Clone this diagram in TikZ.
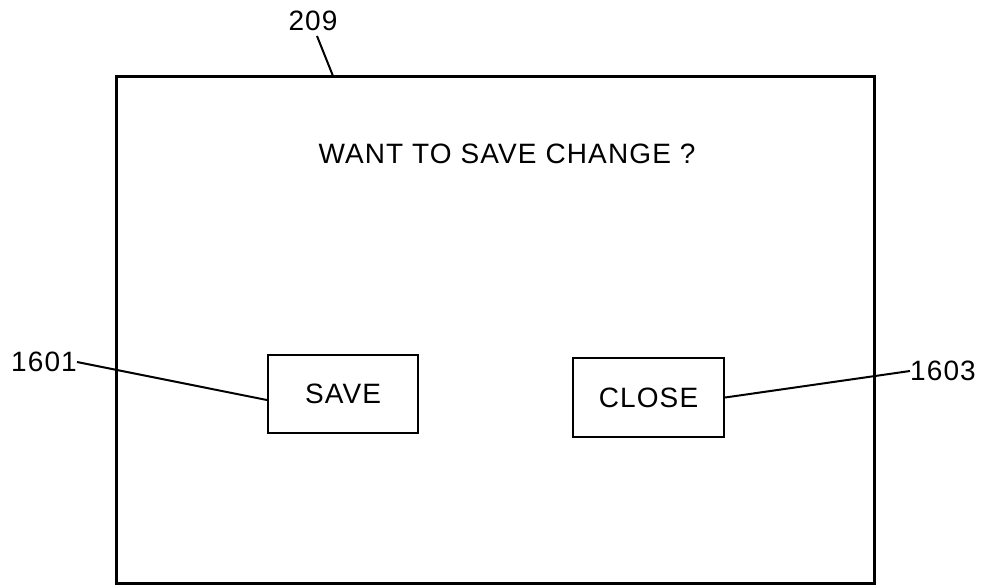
\documentclass[tikz,border=0pt]{standalone}
\usepackage{fontspec}
\newfontfamily\lettering[LetterSpace=4]{Liberation Sans}
\begin{document}
\begin{tikzpicture}[x=1pt,y=-1pt,
  lbl/.style={font=\lettering\fontsize{28}{30}\selectfont, inner sep=0pt},
  button/.style={draw, line width=2.2pt, minimum width=150pt, minimum height=78pt, inner sep=0pt, font=\lettering\fontsize{28}{30}\selectfont},
  leader/.style={line width=2pt}]
\useasboundingbox (0,0) rectangle (985,587);
% main screen
\draw[line width=3pt] (116,76) rectangle (874,583);
\coordinate (scrtop) at (333,76);
% reference label 209
\node[lbl] (l209) at (313,21) {209};
\draw[leader] (317,36) -- (scrtop);
% message
\node[lbl, anchor=base] (msg) at (507,163) {WANT TO SAVE CHANGE ?};
% buttons
\node[button] (save) at (343,394) {SAVE};
\node[button, minimum width=151pt, minimum height=79pt] (close) at (648.5,397.5) {CLOSE};
% labels
\node[lbl] (l1601) at (44,362) {1601};
\node[lbl] (l1603) at (943,371) {1603};
\draw[leader] (l1601.east) -- (save.west |- 0,400);
\draw[leader] (close.east) -- (l1603.west);
\end{tikzpicture}
\end{document}
